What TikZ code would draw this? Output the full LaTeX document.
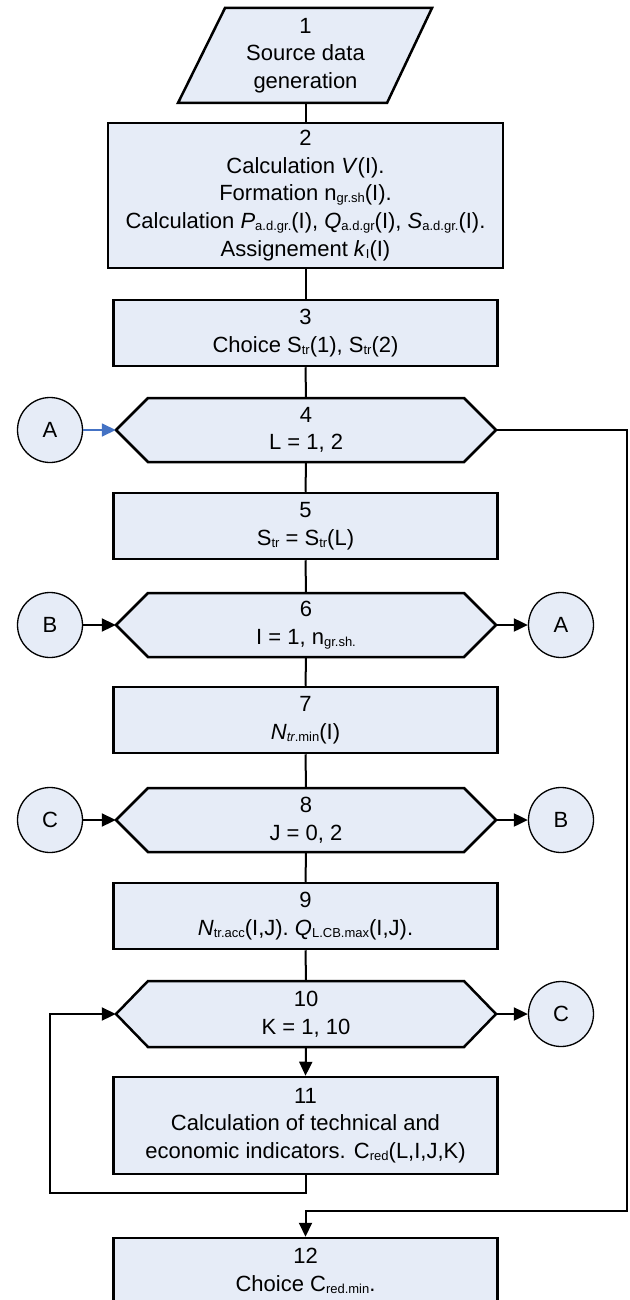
\documentclass[tikz,border=0pt]{standalone}
\usepackage{fontspec}
\setmainfont{Liberation Sans}
\usetikzlibrary{arrows.meta}
\definecolor{boxfill}{RGB}{230,236,247}
\definecolor{linkblue}{RGB}{68,114,196}
\newcommand\sbs[1]{\raisebox{-2pt}{\fontsize{13}{13}\selectfont #1}}
\newcommand\hexblock[5]{%
  \draw[hexline] (#2-190,#3) -- (#2-158,#3-#4) -- (#2+158,#3-#4) -- (#2+190,#3)
     -- (#2+158,#3+#4) -- (#2-158,#3+#4) -- cycle;
  \node[hexnode, minimum height=2*#4] (#1) at (#2,#3) {#5};}
\begin{document}
\begin{tikzpicture}[x=1pt,y=-1pt,
  every node/.style={font=\fontsize{22}{27.6}\selectfont, align=center, inner sep=0pt},
  procbox/.style={draw, line width=2.5pt, fill=boxfill, minimum width=384pt, minimum height=66pt},
  hexnode/.style={minimum width=380pt},
  hexline/.style={draw, line width=2.5pt, fill=boxfill},
  connode/.style={circle, draw, line width=1.3pt, fill=boxfill, minimum size=65pt},
  link/.style={line width=2pt},
  arrowlink/.style={link, -{Triangle[length=14pt,width=13pt]}},
  bluelink/.style={line width=1.6pt, draw=linkblue, -{Triangle[length=14pt,width=13pt]}}]
\useasboundingbox (0,0) rectangle (629,1300);
\clip (0,0) rectangle (629,1300);

% block 1 (parallelogram)
\draw[hexline] (225,8) -- (432,8) -- (387,103) -- (178,103) -- cycle;
\node[minimum width=200pt, minimum height=95pt] (b1) at (305.5,55.5) {1\\Source data\\generation};

\node[procbox, minimum width=395pt, minimum height=145pt] (b2) at (305.5,195.5)
  {2\\Calculation \textit{V}(I).\\Formation n\sbs{gr.sh}(I).\\Calculation \textit{P}\sbs{a.d.gr.}(I), \textit{Q}\sbs{a.d.gr}(I), \textit{S}\sbs{a.d.gr.}(I).\\Assignement \textit{k}\sbs{I}(I)};

\node[procbox] (b3) at (305.5,333) {3\\Choice S\sbs{tr}(1), S\sbs{tr}(2)};
\hexblock{h4}{306}{430}{32}{4\\L = 1, 2}
\node[procbox] (b5) at (305.5,526) {5\\S\sbs{tr} = S\sbs{tr}(L)};
\hexblock{h6}{306}{625}{32}{6\\I = 1, n\sbs{gr.sh.}}
\node[procbox] (b7) at (305.5,720) {7\\\textit{N}\sbs{\textit{tr}.min}(I)};
\hexblock{h8}{306}{820}{32}{8\\J = 0, 2}
\node[procbox] (b9) at (305.5,916) {9\\\textit{N}\sbs{tr.acc}(I,J). \textit{Q}\sbs{L.CB.max}(I,J).};
\hexblock{h10}{306}{1014}{33}{10\\K = 1, 10}
\node[procbox, minimum height=97pt] (b11) at (305.5,1125.5)
  {11\\Calculation of technical and\\economic indicators. C\sbs{red}(L,I,J,K)};
\node[procbox] (b12) at (305.5,1271) {12\\Choice C\sbs{red.min}.};

% connectors circles
\node[connode] (cA1) at (50,430) {A};
\node[connode] (cB1) at (50,625) {B};
\node[connode] (cA2) at (561,625) {A};
\node[connode] (cC1) at (50,820) {C};
\node[connode] (cB2) at (561,820) {B};
\node[connode] (cC2) at (561,1014) {C};

\coordinate (lp) at (50,1193);
\coordinate (rp) at (627,1211);

% main vertical flow
\draw[link] (b1.south) -- (b2.north);
\draw[link] (b2.south) -- (b3.north);
\draw[link] (b3.south) -- (h4.north);
\draw[link] (h4.south) -- (b5.north);
\draw[link] (b5.south) -- (h6.north);
\draw[link] (h6.south) -- (b7.north);
\draw[link] (b7.south) -- (h8.north);
\draw[link] (h8.south) -- (b9.north);
\draw[link] (b9.south) -- (h10.north);
\draw[arrowlink] (h10.south) -- (b11.north);

% side links
\draw[bluelink] (cA1.east) -- (h4.west);
\draw[arrowlink] (cB1.east) -- (h6.west);
\draw[arrowlink] (h6.east) -- (cA2.west);
\draw[arrowlink] (cC1.east) -- (h8.west);
\draw[arrowlink] (h8.east) -- (cB2.west);
\draw[arrowlink] (h10.east) -- (cC2.west);

% loops
\draw[arrowlink] (b11.south) |- (lp) |- (h10.west);
\draw[arrowlink] (h4.east) -| (rp) -| (b12.north);
\end{tikzpicture}
\end{document}
